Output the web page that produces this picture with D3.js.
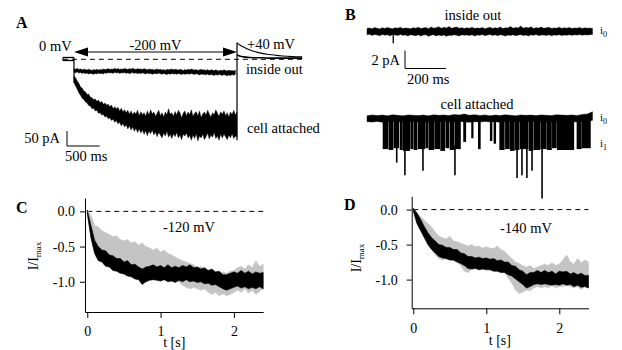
<!DOCTYPE html>
<html><head><meta charset="utf-8">
<script src="https://cdn.jsdelivr.net/npm/d3@7"></script>
<style>body{margin:0;background:#fff}svg{display:block}</style>
</head><body><svg width="622" height="350"></svg>
<script>
// ---------------- DATA ----------------
// Panel A: current (pA), sampled every 25 ms during the 2.5 s step to -200 mV
const aTimes = d3.range(0, 2501, 25);
const aCellHi = [-55,-62,-72,-80,-92,-96,-106,-108,-117,-116,-126,
 -128,-134,-132,-140,-136,-145,-140,-150,-146,-152,
 -150,-158,-152,-165,-158,-166,-160,-172,-163,-175,
 -168,-178,-170,-183,-172,-185,-176,-182,-170,-188,
 -175,-185,-178,-190,-172,-186,-168,-182,-176,-190,
 -180,-170,-188,-178,-192,-176,-185,-165,-183,-178,
 -190,-174,-186,-170,-178,-195,-180,-172,-188,-176,
 -184,-168,-190,-180,-175,-188,-172,-194,-182,-176,
 -186,-170,-182,-192,-178,-185,-168,-180,-190,-175,
 -183,-172,-188,-178,-192,-176,-184,-170,-186,-176];
const aCellLo = [-78,-90,-100,-112,-120,-130,-134,-142,-146,-154,-156,
 -165,-163,-172,-170,-180,-178,-186,-184,-192,-190,
 -198,-195,-204,-200,-210,-205,-215,-210,-222,-214,
 -226,-218,-232,-222,-236,-226,-240,-230,-244,-232,
 -246,-236,-250,-238,-255,-240,-248,-236,-252,-242,
 -258,-244,-252,-262,-246,-256,-240,-260,-250,-264,
 -248,-258,-244,-262,-252,-268,-250,-256,-246,-262,
 -254,-270,-252,-264,-248,-272,-256,-262,-250,-268,
 -258,-246,-266,-252,-260,-244,-264,-256,-270,-250,
 -262,-250,-258,-268,-252,-262,-248,-264,-256,-260];
const aInHi = [-31,-33,-30,-34,-32,-35,-33,-34,-36,-33,-35,
 -37,-34,-36,-33,-36,-34,-35,-32,-34,
 -33,-31,-34,-32,-33,-30,-33,-31,-34,-32,
 -33,-31,-32,-34,-31,-33,-30,-32,-34,-31,
 -33,-32,-34,-31,-33,-35,-32,-34,-33,-36,
 -34,-32,-35,-33,-36,-34,-37,-33,-35,-34,
 -32,-35,-33,-34,-36,-33,-35,-37,-34,-36,
 -33,-35,-32,-34,-36,-34,-37,-35,-33,-36,
 -35,-37,-34,-38,-35,-36,-38,-35,-37,-39,
 -36,-38,-35,-37,-39,-36,-38,-37,-39,-36];
const aInLo = [-43,-45,-42,-46,-44,-47,-45,-48,-46,-49,-47,
 -48,-50,-47,-49,-46,-48,-47,-49,-45,
 -47,-44,-46,-45,-47,-43,-46,-44,-47,-45,
 -46,-44,-47,-45,-48,-46,-44,-47,-45,-48,
 -46,-48,-45,-47,-49,-46,-48,-47,-50,-48,
 -47,-49,-46,-48,-50,-47,-49,-51,-48,-50,
 -47,-49,-48,-50,-47,-49,-51,-48,-50,-49,
 -48,-50,-47,-49,-51,-48,-50,-52,-49,-51,
 -50,-52,-49,-53,-50,-52,-54,-51,-53,-50,
 -52,-54,-51,-53,-55,-52,-54,-51,-53,-50];
const aPreLevels = [6, -4];          // two superimposed holding traces at 0 mV
const aPreStart = -170;              // ms
const aTailTimes = [2500,2550,2600,2700,2800,2900,3000,3100,3200,3350,3500];
const aTailCell = [55,47,41,31,24,19,16,13,11,9,8];
const aTailIn = [14,10,8,6,5,5,4,4,4,4,4];
const aStepLabels = ["0 mV", "-200 mV", "+40 mV"];

// Panel B: single channel currents (pA), 1.1 s records
const bInTimes = d3.range(0, 1100.1, 12.5);
const bInHi = [0.34,0.4,0.3,0.44,0.36,0.29,0.41,0.33,0.45,0.35,
 0.3,0.42,0.36,0.47,0.32,0.39,0.37,0.3,0.43,0.35,
 0.48,0.33,0.4,0.44,0.31,0.5,0.37,0.42,0.53,0.36,
 0.47,0.39,0.56,0.35,0.45,0.49,0.37,0.43,0.33,0.41,
 0.37,0.46,0.32,0.4,0.35,0.44,0.31,0.39,0.47,0.34,
 0.42,0.36,0.5,0.33,0.41,0.38,0.55,0.35,0.44,0.4,
 0.6,0.36,0.47,0.39,0.52,0.34,0.43,0.38,0.49,0.35,
 0.41,0.46,0.33,0.4,0.37,0.48,0.34,0.42,0.36,0.44,
 0.32,0.4,0.37,0.45,0.33,0.41,0.35,0.39,0.34];
const bInLo = [-0.37,-0.31,-0.44,-0.33,-0.4,-0.47,-0.32,-0.41,-0.36,-0.49,
 -0.34,-0.4,-0.45,-0.33,-0.43,-0.38,-0.49,-0.35,-0.41,-0.46,
 -0.36,-0.51,-0.39,-0.37,-0.54,-0.41,-0.35,-0.49,-0.4,-0.47,
 -0.38,-0.52,-0.41,-0.45,-0.36,-0.43,-0.49,-0.36,-0.42,-0.38,
 -0.45,-0.35,-0.5,-0.38,-0.42,-0.34,-0.46,-0.39,-0.33,-0.44,
 -0.37,-0.48,-0.35,-0.42,-0.51,-0.38,-0.44,-0.36,-0.47,-0.4,
 -0.35,-0.45,-0.39,-0.5,-0.37,-0.43,-0.34,-0.46,-0.4,-0.38,
 -0.44,-0.36,-0.48,-0.39,-0.42,-0.35,-0.45,-0.38,-0.41,-0.36,
 -0.43,-0.37,-0.4,-0.34,-0.42,-0.36,-0.39,-0.35,-0.33];
const bInSpike = [128, -1.3];
const bCaTimes = d3.range(0, 1101, 25);
const bCaHi = [0.3,0.4,0.33,0.38,0.3,0.42,0.35,0.3,0.4,0.36,0.32,0.38,0.3,0.42,0.35,0.4,0.32,0.45,0.38,0.5,0.36,0.42,0.34,0.4,0.3,0.38,0.33,0.42,0.36,0.3,0.4,0.35,0.38,0.32,0.4,0.36,0.33,0.42,0.38,0.35,0.4,0.33,0.45,0.5,0.75];
const bCaLo = [-0.35,-0.4,-0.32,-0.42,-0.36,-0.3,-0.4,-0.35,-0.38,-0.33,-0.4,-0.36,-0.42,-0.34,-0.38,-0.32,-0.4,-0.36,-0.3,-0.38,-0.42,-0.35,-0.4,-0.33,-0.38,-0.36,-0.42,-0.34,-0.38,-0.4,-0.35,-0.38,-0.32,-0.4,-0.36,-0.42,-0.35,-0.38,-0.33,-0.4,-0.36,-0.38,-0.3,-0.35,-0.2];
// openings: [start ms, end ms, lower edge pA]
const bOpen = [[80,101,-3.4],[109,125,-3.5],[133,153,-3.3],[163,171,-3.5],[179,207,-3.6],[215,223,-3.4],[231,242,-3.5],[251,280,-3.4],[288,296,-3.3],[304,324,-3.5],[332,353,-3.4],[361,377,-3.6],[386,398,-3.3],[407,423,-3.5],[431,454,-3.4],
  [473,480,-2.6],[512,516,-2.2],[545,551,-3.4],[603,608,-2.5],[621,626,-2.8],
  [649,668,-3.5],[677,693,-3.4],[701,717,-3.6],[725,740,-3.5],[748,784,-3.4],[792,808,-3.6],[816,841,-3.5],[849,873,-3.4],[881,898,-3.5],[906,922,-3.3],[930,1007,-3.5],[1026,1044,-3.4],[1052,1088,-3.3]];
// deep spikes: [time ms, pA]
const bSpikes = [[145,-4.9],[185,-6.3],[273,-5.8],[429,-6.3],[732,-6.6],[756,-6.3],[780,-6.6],[805,-5.8],[854,-8.9]];

// Panels C, D: normalized current I/Imax every 50 ms (0 .. 2.4 s)
const cdTimes = d3.range(49).map(i => +(i * 0.05).toFixed(2));
const cBlkHi = [0.02,-0.2,-0.41,-0.5,-0.55,-0.56,-0.62,-0.63,-0.67,-0.67,-0.72,-0.7,-0.76,-0.75,-0.79,-0.82,-0.79,-0.78,-0.76,-0.79,-0.77,-0.8,-0.76,-0.8,-0.78,-0.8,-0.77,-0.79,-0.76,-0.8,-0.79,-0.82,-0.8,-0.84,-0.82,-0.86,-0.85,-0.9,-0.9,-0.88,-0.86,-0.88,-0.84,-0.88,-0.85,-0.89,-0.86,-0.88,-0.87];
const cBlkLo = [-0.03,-0.38,-0.6,-0.7,-0.72,-0.78,-0.79,-0.84,-0.85,-0.88,-0.89,-0.92,-0.93,-0.96,-0.97,-1.04,-1.0,-0.98,-0.97,-0.98,-0.99,-0.97,-1.0,-0.99,-1.01,-0.98,-1.0,-0.97,-1.0,-0.99,-1.01,-1.0,-1.03,-1.02,-1.05,-1.04,-1.07,-1.1,-1.12,-1.1,-1.08,-1.06,-1.09,-1.07,-1.1,-1.08,-1.1,-1.07,-1.1];
const cGrHi = [0.02,-0.05,-0.2,-0.22,-0.28,-0.3,-0.33,-0.36,-0.35,-0.4,-0.42,-0.4,-0.45,-0.43,-0.48,-0.45,-0.5,-0.52,-0.55,-0.52,-0.58,-0.55,-0.6,-0.62,-0.65,-0.68,-0.7,-0.72,-0.74,-0.76,-0.8,-0.78,-0.82,-0.84,-0.85,-0.86,-0.88,-0.86,-0.88,-0.85,-0.84,-0.8,-0.78,-0.82,-0.76,-0.8,-0.7,-0.78,-0.75];
const cGrLo = [-0.05,-0.3,-0.45,-0.5,-0.55,-0.6,-0.62,-0.66,-0.68,-0.7,-0.72,-0.75,-0.76,-0.8,-0.8,-0.85,-0.83,-0.85,-0.86,-0.88,-0.9,-0.92,-0.93,-0.95,-0.98,-1.0,-1.05,-1.08,-1.1,-1.08,-1.1,-1.12,-1.1,-1.15,-1.18,-1.15,-1.2,-1.17,-1.2,-1.18,-1.15,-1.12,-1.15,-1.1,-1.16,-1.12,-1.18,-1.14,-1.1];
const dBlkHi = [0.02,-0.05,-0.14,-0.24,-0.33,-0.4,-0.45,-0.5,-0.51,-0.54,-0.54,-0.57,-0.57,-0.62,-0.63,-0.67,-0.67,-0.69,-0.68,-0.7,-0.69,-0.71,-0.7,-0.73,-0.72,-0.75,-0.75,-0.8,-0.81,-0.86,-0.88,-0.93,-0.9,-0.9,-0.87,-0.9,-0.87,-0.9,-0.88,-0.92,-0.88,-0.89,-0.88,-0.92,-0.9,-0.93,-0.91,-0.94,-0.94];
const dBlkLo = [-0.02,-0.2,-0.3,-0.4,-0.5,-0.57,-0.62,-0.67,-0.69,-0.7,-0.72,-0.72,-0.75,-0.77,-0.8,-0.84,-0.85,-0.84,-0.86,-0.85,-0.86,-0.86,-0.88,-0.88,-0.9,-0.9,-0.93,-0.95,-0.99,-1.03,-1.07,-1.12,-1.1,-1.07,-1.06,-1.07,-1.06,-1.07,-1.08,-1.07,-1.08,-1.06,-1.08,-1.07,-1.1,-1.08,-1.11,-1.1,-1.12];
const dGrHi = [0.02,-0.05,-0.1,-0.15,-0.2,-0.25,-0.32,-0.38,-0.4,-0.42,-0.38,-0.45,-0.46,-0.48,-0.5,-0.52,-0.5,-0.53,-0.52,-0.55,-0.53,-0.55,-0.56,-0.52,-0.57,-0.6,-0.65,-0.7,-0.75,-0.77,-0.8,-0.82,-0.8,-0.84,-0.82,-0.8,-0.78,-0.8,-0.76,-0.8,-0.78,-0.72,-0.65,-0.74,-0.78,-0.7,-0.76,-0.72,-0.75];
const dGrLo = [-0.04,-0.2,-0.3,-0.4,-0.5,-0.56,-0.65,-0.7,-0.72,-0.7,-0.72,-0.73,-0.75,-0.8,-0.88,-0.9,-0.85,-0.84,-0.83,-0.82,-0.83,-0.85,-0.86,-0.87,-0.88,-0.9,-0.98,-1.05,-1.15,-1.2,-1.18,-1.15,-1.16,-1.12,-1.1,-1.12,-1.1,-1.12,-1.08,-1.12,-1.1,-1.1,-1.08,-1.1,-1.12,-1.1,-1.14,-1.1,-1.12];
const yTickValues = [0, -0.5, -1.0];
const xTickValues = [0, 1, 2];

// ---------------- DRAWING ----------------
const FONT = "Liberation Serif";
const svg = d3.select("svg");
function label(g, x, y, s, opt = {}) {
  return g.append("text").attr("x", x).attr("y", y).text(s)
    .attr("font-family", FONT).attr("font-size", opt.size || 14.5)
    .attr("font-weight", opt.bold ? "bold" : "normal")
    .attr("text-anchor", opt.anchor || "start").attr("fill", "#000");
}
function band(g, x, y, t, hi, lo, fill, sw = 0.6) {
  const ar = d3.area().x((d, i) => x(t[i])).y0((d, i) => y(lo[i])).y1((d, i) => y(hi[i]));
  g.append("path").attr("d", ar(hi)).attr("fill", fill).attr("stroke", fill).attr("stroke-width", sw).attr("stroke-linejoin", "miter");
}

// ===== Panel A =====
const gA = svg.append("g");
const xA = d3.scaleLinear().domain([0, 2500]).range([74, 237]);
const yA = d3.scaleLinear().domain([0, -50]).range([59.3, 74.3]);
label(gA, 16, 28, "A", {bold: true, size: 16});
gA.append("line").attr("x1", xA(aPreStart)).attr("x2", xA(3500)).attr("y1", yA(0)).attr("y2", yA(0))
  .attr("stroke", "#000").attr("stroke-width", 1).attr("stroke-dasharray", "5,4");
aPreLevels.forEach(v => gA.append("line").attr("x1", xA(aPreStart)).attr("x2", xA(0)).attr("y1", yA(v)).attr("y2", yA(v)).attr("stroke", "#000").attr("stroke-width", 1.3));
gA.append("line").attr("x1", xA(aPreStart)).attr("x2", xA(aPreStart)).attr("y1", yA(aPreLevels[0])).attr("y2", yA(aPreLevels[1])).attr("stroke", "#000");
gA.append("line").attr("x1", xA(0)).attr("x2", xA(0)).attr("y1", yA(aPreLevels[0])).attr("y2", yA(aCellLo[0])).attr("stroke", "#000").attr("stroke-width", 1.2);
band(gA, xA, yA, aTimes, aInHi, aInLo, "#000", 0.4);
band(gA, xA, yA, aTimes, aCellHi, aCellLo, "#000", 0.4);
gA.append("line").attr("x1", xA(2500)).attr("x2", xA(2500)).attr("y1", yA(aCellLo[aCellLo.length - 1]) + 3).attr("y2", yA(aTailCell[0]))
  .attr("stroke", "#000").attr("stroke-width", 1.2);
const tailLine = vals => d3.line().x((d, i) => xA(aTailTimes[i])).y(d => yA(d)).curve(d3.curveMonotoneX)(vals);
gA.append("path").attr("d", tailLine(aTailCell)).attr("fill", "none").attr("stroke", "#000").attr("stroke-width", 1.1);
gA.append("path").attr("d", tailLine(aTailIn)).attr("fill", "none").attr("stroke", "#000").attr("stroke-width", 1.6);
const arrowY = 52;
gA.append("line").attr("x1", xA(0) + 10).attr("x2", xA(2500) - 10).attr("y1", arrowY).attr("y2", arrowY).attr("stroke", "#000").attr("stroke-width", 1.2);
gA.append("path").attr("d", `M${xA(0)},${arrowY}l14,-4.5l0,9z`).attr("fill", "#000");
gA.append("path").attr("d", `M${xA(2500)},${arrowY}l-14,-4.5l0,9z`).attr("fill", "#000");
label(gA, 39, 51, aStepLabels[0]);
label(gA, (xA(0) + xA(2500)) / 2, 50, aStepLabels[1], {anchor: "middle"});
label(gA, 247, 49, aStepLabels[2]);
label(gA, 246, 74, "inside out");
label(gA, 247, 133, "cell attached");
const sbAx = 67, sbAy = 146;
gA.append("path").attr("d", `M${sbAx},${sbAy - (yA(-50) - yA(0))}V${sbAy}H${sbAx + xA(500) - xA(0)}`)
  .attr("fill", "none").attr("stroke", "#000").attr("stroke-width", 1);
label(gA, 60, 143, "50 pA", {anchor: "end"});
label(gA, 65, 161, "500 ms");

// ===== Panel B =====
const gB = svg.append("g");
const xB = d3.scaleLinear().domain([0, 1100]).range([367, 592.5]);
const yBin = d3.scaleLinear().domain([0, -2]).range([31.5, 49.5]);
const yBca = d3.scaleLinear().domain([0, -2]).range([118.5, 136.5]);
label(gB, 345, 20, "B", {bold: true, size: 16});
label(gB, 473, 20, "inside out", {anchor: "middle"});
band(gB, xB, yBin, bInTimes, bInHi, bInLo, "#000", 0.4);
gB.append("line").attr("x1", xB(bInSpike[0])).attr("x2", xB(bInSpike[0])).attr("y1", yBin(0)).attr("y2", yBin(bInSpike[1])).attr("stroke", "#000").attr("stroke-width", 1.3);
function iLabel(g, x, y, sub) {
  const t = g.append("text").attr("x", x).attr("y", y).attr("font-family", FONT).attr("font-size", 11).attr("fill", "#000");
  t.append("tspan").text("i");
  t.append("tspan").attr("dy", 3).attr("font-size", 8).text(sub);
}
iLabel(gB, 600, 34, "0");
const sbBx = 405, sbBy = 68.5;
gB.append("path").attr("d", `M${sbBx},${sbBy - (yBin(-2) - yBin(0))}V${sbBy}H${sbBx + xB(200) - xB(0)}`)
  .attr("fill", "none").attr("stroke", "#000").attr("stroke-width", 1);
label(gB, 400, 65, "2 pA", {anchor: "end"});
label(gB, 407, 84, "200 ms");
label(gB, 477, 109, "cell attached", {anchor: "middle"});
band(gB, xB, yBca, bCaTimes, bCaHi, bCaLo, "#000", 0.4);
gB.selectAll("rect.op").data(bOpen).join("rect").attr("class", "op")
  .attr("x", d => xB(d[0]) - 0.7).attr("width", d => xB(d[1]) - xB(d[0]) + 1.4)
  .attr("y", yBca(0.2)).attr("height", d => yBca(d[2]) - yBca(0.2)).attr("fill", "#000");
gB.selectAll("line.sp").data(bSpikes).join("line").attr("class", "sp")
  .attr("x1", d => xB(d[0])).attr("x2", d => xB(d[0])).attr("y1", yBca(-3)).attr("y2", d => yBca(d[1]))
  .attr("stroke", "#000").attr("stroke-width", 1.6);
iLabel(gB, 600, 121, "0");
iLabel(gB, 600, 147, "1");

// ===== Panels C & D =====
function panel(cfg) {
  const g = svg.append("g");
  const x = d3.scaleLinear().domain(cfg.xDom).range(cfg.xRange);
  const y = d3.scaleLinear().domain(cfg.yDom).range(cfg.yRange);
  label(g, cfg.letter[1], cfg.letter[2], cfg.letter[0], {bold: true, size: 16});
  g.append("line").attr("x1", x(0)).attr("x2", x(2.4)).attr("y1", y(0)).attr("y2", y(0))
    .attr("stroke", "#000").attr("stroke-width", 1).attr("stroke-dasharray", "5,4");
  band(g, x, y, cdTimes, cfg.grHi, cfg.grLo, "#c4c4c4");
  band(g, x, y, cdTimes, cfg.blkHi, cfg.blkLo, "#000");
  const ya = g.append("g").attr("transform", `translate(${cfg.xRange[0]},0)`)
    .call(d3.axisLeft(y).tickValues(yTickValues).tickSize(5).tickSizeOuter(0).tickPadding(cfg.yPad).tickFormat(d => d.toFixed(1)));
  const xa = g.append("g").attr("transform", `translate(0,${cfg.yRange[0]})`)
    .call(d3.axisBottom(x).tickValues(xTickValues).tickSize(6).tickSizeOuter(0).tickPadding(cfg.xPad).tickFormat(d3.format("d")));
  [ya, xa].forEach(a => {
    a.attr("font-family", FONT).attr("font-size", 14);
    a.selectAll("text").attr("font-family", FONT).attr("font-size", 14);
    a.selectAll("path,line").attr("stroke", "#000");
  });
  label(g, (x(0) + x(2.4)) / 2 - 1, cfg.xLabY, "t [s]", {anchor: "middle", size: 14});
  const yl = g.append("text").attr("transform", `translate(${cfg.yLab[0]},${cfg.yLab[1]}) rotate(-90)`)
    .attr("text-anchor", "middle").attr("font-family", FONT).attr("font-size", 14).attr("fill", "#000");
  yl.append("tspan").text("I/I");
  yl.append("tspan").attr("dy", 3).attr("font-size", 9).text("max");
  label(g, cfg.mv[1], cfg.mv[2], cfg.mv[0]);
}
panel({letter: ["C", 16, 213], xDom: [-0.031, 2.4], xRange: [85, 263.2], yDom: [-1.43, 0.19], yRange: [312, 198],
  grHi: cGrHi, grLo: cGrLo, blkHi: cBlkHi, blkLo: cBlkLo, yPad: 5, xPad: 8, xLabY: 347, yLab: [38, 256], mv: ["-120 mV", 163, 232]});
panel({letter: ["D", 344, 210], xDom: [-0.022, 2.4], xRange: [411.7, 588.5], yDom: [-1.41, 0.19], yRange: [308.3, 196.3],
  grHi: dGrHi, grLo: dGrLo, blkHi: dBlkHi, blkLo: dBlkLo, yPad: 9, xPad: 9, xLabY: 345, yLab: [361, 258], mv: ["-140 mV", 500, 233]});
</script>
</body></html>
